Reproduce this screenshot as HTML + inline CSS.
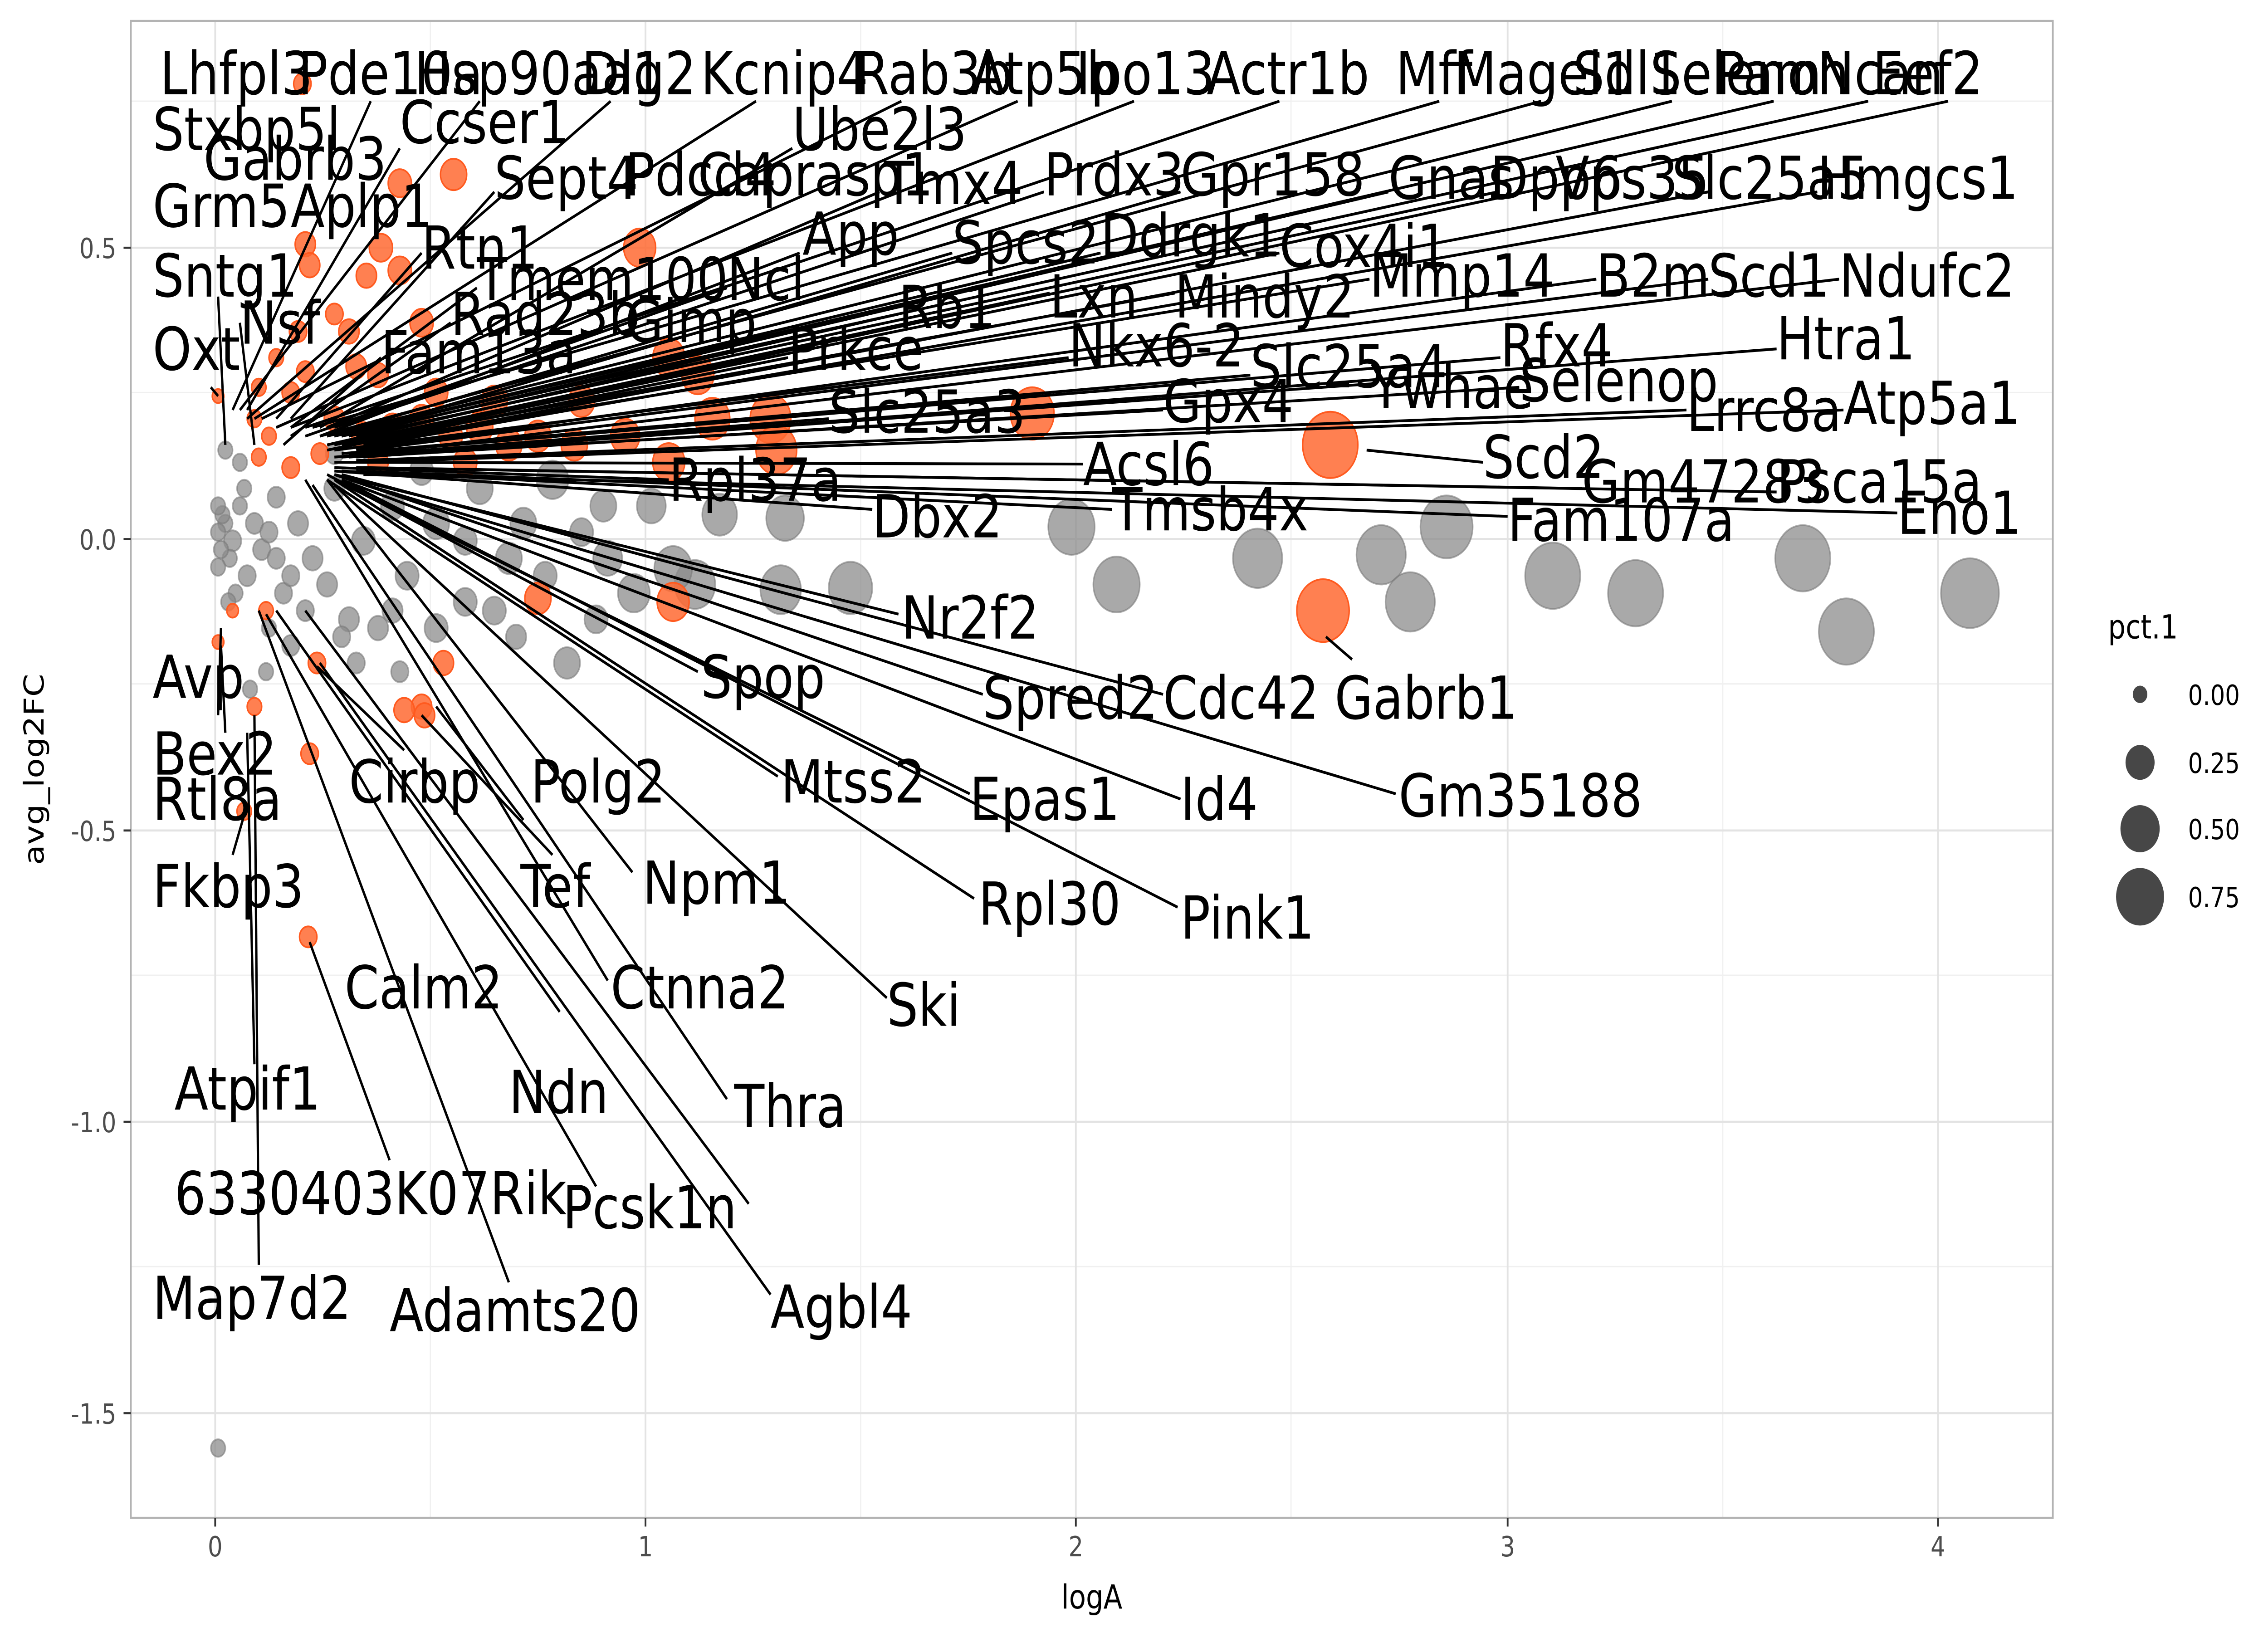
<!DOCTYPE html>
<html><head><meta charset="utf-8"><style>html,body{margin:0;padding:0;background:#fff;width:100vw;height:100vh;overflow:hidden}svg{display:block;position:fixed;left:0;top:0;width:100vw;height:100vh}</style></head>
<body>
<svg viewBox="0 0 1560 936" preserveAspectRatio="none" xmlns="http://www.w3.org/2000/svg" font-family="DejaVu Sans, Liberation Sans, sans-serif">
<rect width="1560" height="936" fill="#fff"/>
<g stroke="#f0f0f0" stroke-width="0.8">
<line x1="296" y1="12" x2="296" y2="870"/><line x1="592" y1="12" x2="592" y2="870"/><line x1="888" y1="12" x2="888" y2="870"/><line x1="1185" y1="12" x2="1185" y2="870"/>
<line x1="90" y1="58" x2="1412" y2="58"/><line x1="90" y1="225" x2="1412" y2="225"/><line x1="90" y1="392" x2="1412" y2="392"/><line x1="90" y1="559" x2="1412" y2="559"/><line x1="90" y1="726" x2="1412" y2="726"/>
</g>
<g stroke="#e3e3e3" stroke-width="1.2">
<line x1="148" y1="12" x2="148" y2="870"/><line x1="444" y1="12" x2="444" y2="870"/><line x1="740" y1="12" x2="740" y2="870"/><line x1="1037" y1="12" x2="1037" y2="870"/><line x1="1333" y1="12" x2="1333" y2="870"/>
<line x1="90" y1="142" x2="1412" y2="142"/><line x1="90" y1="309" x2="1412" y2="309"/><line x1="90" y1="476" x2="1412" y2="476"/><line x1="90" y1="643" x2="1412" y2="643"/><line x1="90" y1="810" x2="1412" y2="810"/>
</g>
<g fill="#8c8c8c" fill-opacity="0.75" stroke="#7a7a7a" stroke-opacity="0.6">
<circle cx="737" cy="302" r="16"/><circle cx="768" cy="335" r="16"/><circle cx="865" cy="320" r="17"/><circle cx="950" cy="318" r="17"/><circle cx="970" cy="345" r="17"/><circle cx="995" cy="302" r="18"/><circle cx="1068" cy="330" r="19"/><circle cx="1125" cy="340" r="19"/><circle cx="1240" cy="320" r="19"/><circle cx="1270" cy="362" r="19"/><circle cx="1355" cy="340" r="20"/>
<circle cx="585" cy="337" r="15"/><circle cx="537" cy="338" r="14"/><circle cx="540" cy="297" r="13"/><circle cx="495" cy="295" r="12"/><circle cx="478" cy="335" r="14"/><circle cx="463" cy="326" r="13"/><circle cx="436" cy="340" r="11"/><circle cx="418" cy="320" r="10"/><circle cx="448" cy="290" r="10"/><circle cx="415" cy="290" r="9"/><circle cx="380" cy="275" r="11"/><circle cx="350" cy="320" r="9"/><circle cx="390" cy="380" r="9"/><circle cx="360" cy="300" r="9"/><circle cx="330" cy="280" r="9"/><circle cx="320" cy="345" r="8"/><circle cx="300" cy="300" r="9"/><circle cx="280" cy="330" r="8"/><circle cx="270" cy="290" r="8"/><circle cx="250" cy="310" r="8"/><circle cx="240" cy="355" r="7"/><circle cx="230" cy="280" r="7"/><circle cx="215" cy="320" r="7"/><circle cx="205" cy="300" r="7"/><circle cx="195" cy="340" r="6"/><circle cx="190" cy="285" r="6"/><circle cx="180" cy="315" r="6"/><circle cx="175" cy="300" r="6"/><circle cx="170" cy="330" r="6"/><circle cx="165" cy="290" r="5"/><circle cx="160" cy="310" r="6"/><circle cx="158" cy="320" r="5"/><circle cx="155" cy="300" r="5"/><circle cx="152" cy="315" r="5"/><circle cx="150" cy="325" r="5"/><circle cx="150" cy="305" r="5"/><circle cx="153" cy="295" r="5"/><circle cx="162" cy="340" r="5"/><circle cx="168" cy="280" r="5"/><circle cx="185" cy="360" r="5"/><circle cx="200" cy="370" r="6"/><circle cx="225" cy="335" r="7"/><circle cx="260" cy="360" r="7"/><circle cx="245" cy="380" r="6"/><circle cx="300" cy="360" r="8"/><circle cx="340" cy="350" r="8"/><circle cx="410" cy="355" r="8"/><circle cx="275" cy="385" r="6"/><circle cx="235" cy="365" r="6"/><circle cx="210" cy="350" r="6"/><circle cx="155" cy="258" r="5"/><circle cx="165" cy="265" r="5"/><circle cx="230" cy="260" r="6"/><circle cx="290" cy="270" r="8"/><circle cx="320" cy="310" r="8"/><circle cx="375" cy="330" r="8"/><circle cx="400" cy="305" r="8"/><circle cx="355" cy="365" r="7"/><circle cx="270" cy="350" r="7"/><circle cx="190" cy="320" r="6"/><circle cx="200" cy="330" r="6"/><circle cx="185" cy="305" r="6"/><circle cx="172" cy="395" r="5"/><circle cx="150" cy="830" r="5"/><circle cx="183" cy="385" r="5"/><circle cx="150" cy="290" r="5"/><circle cx="157" cy="345" r="5"/>
</g>
<g fill="#ff6a33" fill-opacity="0.85" stroke="#ff5a1f">
<circle cx="208" cy="48" r="6"/><circle cx="275" cy="105" r="8"/><circle cx="312" cy="100" r="9"/><circle cx="210" cy="140" r="7"/><circle cx="213" cy="152" r="7"/><circle cx="262" cy="142" r="8"/><circle cx="275" cy="155" r="8"/><circle cx="252" cy="158" r="7"/><circle cx="440" cy="142" r="11"/><circle cx="290" cy="185" r="8"/><circle cx="245" cy="210" r="7"/><circle cx="210" cy="213" r="6"/><circle cx="178" cy="222" r="5"/><circle cx="150" cy="227" r="4"/><circle cx="200" cy="225" r="6"/><circle cx="260" cy="215" r="7"/><circle cx="460" cy="205" r="11"/><circle cx="480" cy="215" r="11"/><circle cx="530" cy="240" r="14"/><circle cx="534" cy="258" r="14"/><circle cx="710" cy="237" r="15"/><circle cx="915" cy="255" r="19"/><circle cx="910" cy="350" r="18"/><circle cx="370" cy="343" r="9"/><circle cx="463" cy="345" r="11"/><circle cx="290" cy="405" r="7"/><circle cx="305" cy="380" r="7"/><circle cx="278" cy="407" r="7"/><circle cx="292" cy="410" r="7"/><circle cx="178" cy="262" r="5"/><circle cx="160" cy="350" r="4"/><circle cx="183" cy="350" r="5"/><circle cx="168" cy="465" r="5"/><circle cx="175" cy="405" r="5"/><circle cx="213" cy="432" r="6"/><circle cx="212" cy="537" r="6"/><circle cx="218" cy="380" r="6"/><circle cx="150" cy="368" r="4"/>
<circle cx="230" cy="240" r="7"/><circle cx="250" cy="250" r="8"/><circle cx="270" cy="245" r="8"/><circle cx="290" cy="240" r="8"/><circle cx="310" cy="250" r="8"/><circle cx="330" cy="245" r="9"/><circle cx="350" cy="255" r="9"/><circle cx="370" cy="250" r="9"/><circle cx="395" cy="255" r="9"/><circle cx="430" cy="250" r="10"/><circle cx="220" cy="260" r="6"/><circle cx="200" cy="268" r="6"/><circle cx="185" cy="250" r="5"/><circle cx="300" cy="225" r="8"/><circle cx="340" cy="230" r="9"/><circle cx="260" cy="265" r="7"/><circle cx="320" cy="265" r="8"/><circle cx="460" cy="265" r="11"/><circle cx="240" cy="190" r="7"/><circle cx="230" cy="180" r="6"/><circle cx="205" cy="190" r="6"/><circle cx="190" cy="205" r="5"/><circle cx="175" cy="240" r="5"/><circle cx="400" cy="230" r="9"/><circle cx="490" cy="240" r="12"/>
</g>
<rect x="90" y="12" width="1322" height="858" fill="none" stroke="#b3b3b3" stroke-width="1.2"/>
<g stroke="#000" stroke-width="1.6" fill="none">
<line x1="255" y1="58" x2="160" y2="235"/><line x1="330" y1="58" x2="165" y2="235"/><line x1="420" y1="58" x2="170" y2="240"/><line x1="520" y1="58" x2="175" y2="240"/><line x1="620" y1="58" x2="180" y2="240"/><line x1="700" y1="58" x2="190" y2="245"/><line x1="780" y1="58" x2="200" y2="245"/><line x1="880" y1="58" x2="210" y2="245"/><line x1="990" y1="58" x2="215" y2="245"/><line x1="1060" y1="58" x2="220" y2="250"/><line x1="1150" y1="58" x2="225" y2="250"/><line x1="1220" y1="58" x2="230" y2="250"/><line x1="1285" y1="58" x2="235" y2="250"/><line x1="1340" y1="58" x2="240" y2="255"/>
<line x1="545" y1="85" x2="220" y2="245"/><line x1="275" y1="85" x2="170" y2="235"/><line x1="340" y1="110" x2="200" y2="240"/><line x1="605" y1="110" x2="225" y2="245"/><line x1="718" y1="110" x2="230" y2="245"/><line x1="812" y1="110" x2="235" y2="250"/><line x1="955" y1="110" x2="240" y2="250"/><line x1="1030" y1="110" x2="245" y2="250"/><line x1="1175" y1="110" x2="250" y2="255"/><line x1="1250" y1="110" x2="255" y2="255"/>
<line x1="290" y1="145" x2="190" y2="240"/><line x1="550" y1="145" x2="220" y2="250"/><line x1="655" y1="145" x2="225" y2="250"/><line x1="757" y1="145" x2="230" y2="250"/><line x1="880" y1="145" x2="235" y2="255"/>
<line x1="328" y1="165" x2="200" y2="245"/><line x1="500" y1="165" x2="210" y2="250"/><line x1="722" y1="168" x2="230" y2="255"/><line x1="808" y1="168" x2="235" y2="255"/><line x1="942" y1="160" x2="240" y2="255"/><line x1="1098" y1="160" x2="245" y2="258"/><line x1="1175" y1="160" x2="250" y2="258"/><line x1="1265" y1="160" x2="255" y2="260"/>
<line x1="618" y1="180" x2="225" y2="255"/><line x1="310" y1="185" x2="200" y2="250"/><line x1="262" y1="205" x2="195" y2="255"/><line x1="542" y1="205" x2="225" y2="258"/><line x1="735" y1="205" x2="230" y2="258"/><line x1="1032" y1="205" x2="240" y2="260"/><line x1="1222" y1="200" x2="250" y2="262"/>
<line x1="860" y1="215" x2="235" y2="260"/><line x1="943" y1="220" x2="240" y2="262"/><line x1="1045" y1="222" x2="245" y2="262"/><line x1="800" y1="235" x2="235" y2="262"/><line x1="1160" y1="235" x2="245" y2="264"/><line x1="1268" y1="235" x2="250" y2="265"/><line x1="570" y1="240" x2="230" y2="262"/>
<line x1="745" y1="266" x2="230" y2="265"/><line x1="1020" y1="265" x2="940" y2="258"/><line x1="460" y1="275" x2="230" y2="268"/><line x1="1088" y1="280" x2="245" y2="268"/><line x1="1222" y1="282" x2="250" y2="268"/><line x1="600" y1="292" x2="230" y2="270"/><line x1="765" y1="292" x2="235" y2="270"/><line x1="1037" y1="296" x2="245" y2="270"/><line x1="1305" y1="294" x2="250" y2="272"/>
<line x1="618" y1="352" x2="230" y2="272"/><line x1="480" y1="385" x2="225" y2="272"/><line x1="676" y1="398" x2="230" y2="272"/><line x1="800" y1="398" x2="235" y2="272"/><line x1="930" y1="378" x2="912" y2="365"/><line x1="535" y1="445" x2="225" y2="275"/><line x1="667" y1="455" x2="230" y2="275"/><line x1="812" y1="458" x2="235" y2="275"/><line x1="960" y1="455" x2="240" y2="275"/>
<line x1="435" y1="500" x2="225" y2="275"/><line x1="670" y1="515" x2="230" y2="275"/><line x1="810" y1="520" x2="235" y2="275"/><line x1="610" y1="572" x2="230" y2="278"/><line x1="418" y1="562" x2="210" y2="275"/><line x1="500" y1="630" x2="215" y2="278"/><line x1="385" y1="580" x2="190" y2="350"/><line x1="515" y1="690" x2="210" y2="350"/><line x1="530" y1="742" x2="220" y2="380"/><line x1="360" y1="470" x2="300" y2="405"/><line x1="380" y1="490" x2="290" y2="410"/><line x1="350" y1="735" x2="178" y2="350"/><line x1="410" y1="680" x2="183" y2="352"/><line x1="278" y1="430" x2="218" y2="382"/><line x1="268" y1="665" x2="213" y2="540"/>
<line x1="150" y1="410" x2="152" y2="360"/><line x1="155" y1="420" x2="152" y2="370"/><line x1="160" y1="490" x2="168" y2="467"/><line x1="175" y1="610" x2="170" y2="420"/><line x1="178" y1="725" x2="175" y2="410"/><line x1="145" y1="222" x2="150" y2="227"/><line x1="165" y1="185" x2="175" y2="255"/><line x1="150" y1="170" x2="155" y2="255"/>
</g>
<g font-size="34" fill="#000" font-family="DejaVu Sans, sans-serif">
<text x="110" y="54">Lhfpl3</text><text x="205" y="54">Pde10a</text><text x="285" y="54">Hsp90aa1</text><text x="400" y="54">Dlg2</text><text x="482" y="54">Kcnip4</text><text x="588" y="54">Rab3b</text><text x="668" y="54">Atp5b</text><text x="740" y="54">Ipo13</text><text x="830" y="54">Actr1b</text><text x="960" y="54">Mff</text><text x="1000" y="54">Magel1</text><text x="1082" y="54">Sdl1</text><text x="1135" y="54">Selenon</text><text x="1180" y="54">Pam</text><text x="1250" y="54">Ncan</text><text x="1288" y="54">Eef2</text>
<text x="105" y="86">Stxbp5l</text><text x="275" y="82">Ccser1</text><text x="545" y="86">Ube2l3</text>
<text x="140" y="103">Gabrb3</text><text x="340" y="114">Sept4</text><text x="430" y="112">Pdcd4</text><text x="480" y="112">Caprasp1</text><text x="608" y="117">Tmx4</text><text x="718" y="112">Prdx3</text><text x="812" y="112">Gpr158</text><text x="955" y="114">Gnas</text><text x="1025" y="114">Dpp6</text><text x="1070" y="114">Vps35</text><text x="1150" y="114">Slc25a5</text><text x="1250" y="114">Hmgcs1</text>
<text x="105" y="130">Grm5</text><text x="200" y="130">Aplp1</text>
<text x="290" y="154">Rtn1</text><text x="552" y="146">App</text><text x="655" y="151">Spcs2</text><text x="757" y="147">Ddrgk1</text><text x="880" y="153">Cox4i1</text>
<text x="105" y="170">Sntg1</text><text x="328" y="172">Tmem100</text><text x="500" y="172">Ncl</text><text x="722" y="182">Lxn</text><text x="808" y="182">Mindy2</text><text x="942" y="170">Mmp14</text><text x="1098" y="170">B2m</text><text x="1175" y="170">Scd1</text><text x="1265" y="170">Ndufc2</text>
<text x="618" y="188">Rb1</text><text x="165" y="197">Nsf</text><text x="310" y="192">Rad23b</text><text x="430" y="196">Gimp</text>
<text x="105" y="212">Oxt</text><text x="262" y="214">Fam13a</text><text x="542" y="212">Prkce</text><text x="735" y="210">Nkx6-2</text><text x="1032" y="210">Rfx4</text><text x="1222" y="206">Htra1</text>
<text x="860" y="222">Slc25a4</text><text x="943" y="234">Ywhae</text><text x="1045" y="230">Selenop</text>
<text x="800" y="242">Gpx4</text><text x="1160" y="247">Lrrc8a</text><text x="1268" y="243">Atp5a1</text><text x="570" y="248">Slc25a3</text>
<text x="745" y="278">Acsl6</text><text x="1020" y="274">Scd2</text><text x="460" y="287">Rpl37a</text><text x="1088" y="288">Gm47283</text><text x="1222" y="288">Psca15a</text>
<text x="600" y="308">Dbx2</text><text x="765" y="304">Tmsb4x</text><text x="1037" y="310">Fam107a</text><text x="1305" y="306">Eno1</text>
<text x="620" y="366">Nr2f2</text><text x="105" y="400">Avp</text><text x="482" y="400">Spop</text><text x="676" y="412">Spred2</text><text x="800" y="412">Cdc42</text><text x="918" y="412">Gabrb1</text>
<text x="105" y="444">Bex2</text><text x="240" y="460">Cirbp</text><text x="365" y="460">Polg2</text><text x="537" y="460">Mtss2</text>
<text x="105" y="470">Rtl8a</text><text x="667" y="470">Epas1</text><text x="812" y="470">Id4</text><text x="962" y="468">Gm35188</text>
<text x="105" y="520">Fkbp3</text><text x="358" y="520">Tef</text><text x="442" y="518">Npm1</text><text x="673" y="530">Rpl30</text><text x="812" y="538">Pink1</text>
<text x="237" y="578">Calm2</text><text x="420" y="578">Ctnna2</text><text x="610" y="588">Ski</text>
<text x="120" y="636">Atpif1</text><text x="350" y="638">Ndn</text><text x="505" y="646">Thra</text>
<text x="120" y="696">6330403K07Rik</text><text x="387" y="704">Pcsk1n</text>
<text x="105" y="756">Map7d2</text><text x="268" y="763">Adamts20</text><text x="530" y="761">Agbl4</text>
</g>
<g font-size="16" fill="#4d4d4d" font-family="DejaVu Sans, sans-serif">
<text x="80" y="148" text-anchor="end">0.5</text><text x="80" y="315" text-anchor="end">0.0</text><text x="80" y="482" text-anchor="end">-0.5</text><text x="80" y="649" text-anchor="end">-1.0</text><text x="80" y="816" text-anchor="end">-1.5</text>
<text x="148" y="892" text-anchor="middle">0</text><text x="444" y="892" text-anchor="middle">1</text><text x="740" y="892" text-anchor="middle">2</text><text x="1037" y="892" text-anchor="middle">3</text><text x="1333" y="892" text-anchor="middle">4</text>
</g>
<g stroke="#333" stroke-width="1.2"><line x1="85" y1="142" x2="90" y2="142"/><line x1="85" y1="309" x2="90" y2="309"/><line x1="85" y1="476" x2="90" y2="476"/><line x1="85" y1="643" x2="90" y2="643"/><line x1="85" y1="810" x2="90" y2="810"/>
<line x1="148" y1="870" x2="148" y2="875"/><line x1="444" y1="870" x2="444" y2="875"/><line x1="740" y1="870" x2="740" y2="875"/><line x1="1037" y1="870" x2="1037" y2="875"/><line x1="1333" y1="870" x2="1333" y2="875"/></g>
<g font-size="19" fill="#000" font-family="DejaVu Sans, sans-serif">
<text x="751" y="922" text-anchor="middle">logA</text>
<text transform="translate(30,441) rotate(-90)" text-anchor="middle">avg_log2FC</text>
<text x="1450" y="366">pct.1</text>
</g>
<g fill="#333" fill-opacity="0.9"><circle cx="1472" cy="398" r="5"/><circle cx="1472" cy="437" r="10"/><circle cx="1472" cy="475" r="13.5"/><circle cx="1472" cy="514" r="16.5"/></g>
<g font-size="16" fill="#000" font-family="DejaVu Sans, sans-serif"><text x="1505" y="404">0.00</text><text x="1505" y="443">0.25</text><text x="1505" y="481">0.50</text><text x="1505" y="520">0.75</text></g>
</svg>
</body></html>
